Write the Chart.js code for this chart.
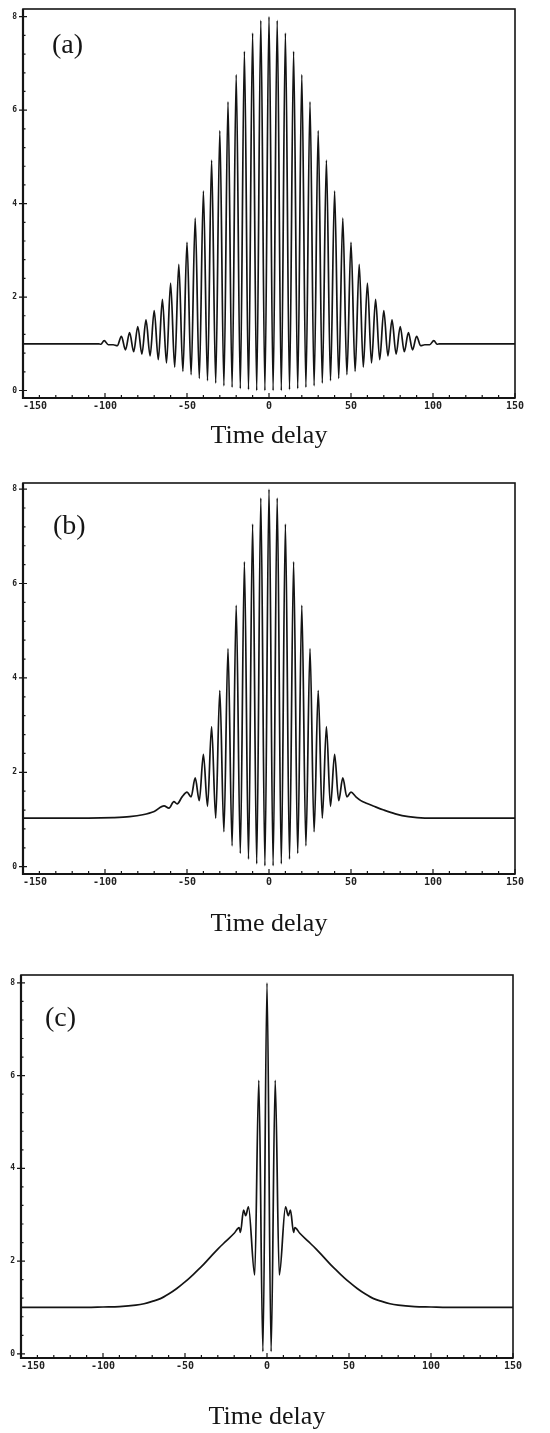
<!DOCTYPE html>
<html>
<head>
<meta charset="utf-8">
<script src="https://cdn.jsdelivr.net/npm/chart.js@4.4.0/dist/chart.umd.min.js"></script>
<style>
  body { margin: 0; background: #fff; width: 550px; height: 1433px; overflow: hidden; }
  canvas { position: absolute; left: 0; }
</style>
</head>
<body>
<canvas id="grafA" width="550" height="470" style="top:0px"></canvas>
<canvas id="grafB" width="550" height="475" style="top:470px"></canvas>
<canvas id="grafC" width="550" height="488" style="top:945px"></canvas>
<script>
// valores
const tempoA = [-150, -120, -104, -102.5, -100.5, -98, -95, -92.5,
  -90, -87.5, -85, -82.5, -80, -77.5, -75, -72.5, -70, -67.5, -65, -62.5, -60, -57.5, -55, -52.5,
  -50, -47.5, -45, -42.5, -40, -37.5, -35, -32.5, -30, -27.5, -25, -22.5, -20, -17.5, -15, -12.5,
  -10, -7.5, -5, -2.5, 0,
  2.5, 5, 7.5, 10, 12.5, 15, 17.5, 20, 22.5, 25, 27.5, 30, 32.5, 35, 37.5, 40, 42.5, 45, 47.5, 50,
  52.5, 55, 57.5, 60, 62.5, 65, 67.5, 70, 72.5, 75, 77.5, 80, 82.5, 85, 87.5, 90,
  92.5, 95, 98, 100.5, 102.5, 104, 120, 150];
const sinalA = [1.0, 1.0, 1.0, 0.99, 1.07, 0.98, 0.98, 0.96,
  1.16, 0.87, 1.24, 0.83, 1.37, 0.78, 1.51, 0.74, 1.71, 0.66, 1.95, 0.59, 2.30, 0.50, 2.70, 0.41,
  3.17, 0.34, 3.69, 0.26, 4.27, 0.21, 4.93, 0.16, 5.56, 0.10, 6.18, 0.07, 6.76, 0.04, 7.26, 0.02,
  7.65, 0.0, 7.92, 0.0, 8.0,
  0.0, 7.92, 0.0, 7.65, 0.02, 7.26, 0.04, 6.76, 0.07, 6.18, 0.10, 5.56, 0.16, 4.93, 0.21, 4.27, 0.26, 3.69, 0.34, 3.17,
  0.41, 2.70, 0.50, 2.30, 0.59, 1.95, 0.66, 1.71, 0.74, 1.51, 0.78, 1.37, 0.83, 1.24, 0.87, 1.16,
  0.96, 0.98, 0.98, 1.07, 0.99, 1.0, 1.0, 1.0];

const tempoB = [-150, -110, -95, -85, -77, -70, -64, -61, -58, -56, -53, -50,
  -47.5, -45, -42.5, -40, -37.5, -35, -32.5, -30, -27.5, -25, -22.5, -20, -17.5, -15, -12.5, -10,
  -7.5, -5, -2.5, 0,
  2.5, 5, 7.5, 10, 12.5, 15, 17.5, 20, 22.5, 25, 27.5, 30, 32.5, 35, 37.5, 40, 42.5, 45, 47.5,
  50, 53, 56, 59, 64, 70, 77, 85, 95, 110, 150];
const sinalB = [1.03, 1.03, 1.04, 1.06, 1.10, 1.17, 1.29, 1.24, 1.38, 1.33, 1.48, 1.58,
  1.48, 1.88, 1.40, 2.38, 1.28, 2.97, 1.03, 3.73, 0.74, 4.62, 0.44, 5.54, 0.28, 6.46, 0.16, 7.26,
  0.06, 7.81, 0.02, 8.0,
  0.02, 7.81, 0.06, 7.26, 0.16, 6.46, 0.28, 5.54, 0.44, 4.62, 0.74, 3.73, 1.03, 2.97, 1.28, 2.38, 1.40, 1.88, 1.48,
  1.58, 1.48, 1.40, 1.35, 1.28, 1.20, 1.12, 1.06, 1.03, 1.03, 1.03];

const tempoC = [-150, -110, -100, -90, -80, -75, -70, -65, -60, -55, -50, -45, -40, -35, -30, -25, -20,
  -17, -16.2, -14.3, -13, -11.3, -7.5, -5, -2.5, 0,
  2.5, 5, 7.5, 11.3, 13, 14.3, 16.2, 17,
  20, 25, 30, 35, 40, 45, 50, 55, 60, 65, 70, 75, 80, 90, 100, 110, 150];
const sinalC = [1.0, 1.0, 1.01, 1.02, 1.05, 1.08, 1.13, 1.19, 1.29, 1.41, 1.55, 1.71, 1.88, 2.07, 2.26, 2.43, 2.60,
  2.72, 2.62, 3.10, 2.98, 3.17, 1.70, 5.9, 0.05, 8.0,
  0.05, 5.9, 1.70, 3.17, 2.98, 3.10, 2.62, 2.72,
  2.60, 2.43, 2.26, 2.07, 1.88, 1.71, 1.55, 1.41, 1.29, 1.19, 1.13, 1.08, 1.05, 1.02, 1.01, 1.0, 1.0];

const xTicks = [-150, -140, -130, -120, -110, -100, -90, -80, -70, -60, -50, -40, -30, -20, -10, 0,
  10, 20, 30, 40, 50, 60, 70, 80, 90, 100, 110, 120, 130, 140, 150];
const xRotulos = [-150, -100, -50, 0, 50, 100, 150];
const yTicks = [0, 0.4, 0.8, 1.2, 1.6, 2, 2.4, 2.8, 3.2, 3.6, 4, 4.4, 4.8, 5.2, 5.6, 6,
  6.4, 6.8, 7.2, 7.6, 8];
const yRotulos = [0, 2, 4, 6, 8];

const moldura = {
  id: 'moldura',
  afterDraw(chart, args, opts) {
    const { ctx, chartArea: a, scales: { x, y } } = chart;
    ctx.save();
    ctx.strokeStyle = '#151515';
    ctx.lineWidth = 1.6;
    ctx.strokeRect(a.left, a.top, a.right - a.left, a.bottom - a.top);
    ctx.lineWidth = 2.2;
    ctx.beginPath();
    ctx.moveTo(a.left, a.top);
    ctx.lineTo(a.left, a.bottom);
    ctx.lineTo(a.right, a.bottom);
    ctx.stroke();

    ctx.lineWidth = 1.2;
    ctx.beginPath();
    xTicks.forEach(v => {
      const px = x.getPixelForValue(v);
      const len = xRotulos.includes(v) ? 5 : 3;
      ctx.moveTo(px, a.bottom);
      ctx.lineTo(px, a.bottom - len);
    });
    yTicks.forEach(v => {
      const py = y.getPixelForValue(v);
      if (yRotulos.includes(v)) {
        ctx.moveTo(a.left - 4, py);
        ctx.lineTo(a.left + 4, py);
      } else {
        ctx.moveTo(a.left, py);
        ctx.lineTo(a.left + 2.5, py);
      }
    });
    ctx.stroke();

    ctx.fillStyle = '#151515';
    ctx.font = '28px "Liberation Serif", serif';
    ctx.textBaseline = 'middle';
    ctx.fillText(opts.letra, opts.lx, opts.ly);
    ctx.restore();
  }
};

function criaPainel({ canvasId, tempo, sinal, letra, lx, ly, yMin, yMax, topo, eixoX, larguraY, direita, tituloPad }) {
  const ctx = document.getElementById(canvasId).getContext('2d');
  new Chart(ctx, {
    type: 'line',
    data: {
      datasets: [{
        data: tempo.map((t, i) => ({ x: t, y: sinal[i] })),
        borderColor: '#141414',
        borderWidth: 1.7,
        pointRadius: 0,
        cubicInterpolationMode: 'monotone',
        fill: false
      }]
    },
    options: {
      responsive: false,
      animation: false,
      layout: { padding: { left: 0, right: direita, top: topo, bottom: 0 } },
      plugins: {
        legend: { display: false },
        tooltip: { enabled: false },
        moldura: { letra, lx, ly }
      },
      scales: {
        x: {
          type: 'linear',
          min: -150,
          max: 150,
          afterBuildTicks: s => { s.ticks = xTicks.map(v => ({ value: v })); },
          afterFit: s => { s.height = eixoX; s.paddingLeft = 0; s.paddingRight = 0; },
          grid: { display: false, drawTicks: false },
          border: { display: false },
          ticks: {
            autoSkip: false,
            maxRotation: 0,
            padding: 2,
            color: '#222',
            font: { family: '"DejaVu Sans Mono", monospace', size: 10, weight: 'bold' },
            callback: v => v === -150 ? '    -150' : (xRotulos.includes(v) ? String(v) : '')
          },
          title: {
            display: true,
            text: 'Time delay',
            color: '#151515',
            font: { family: '"Liberation Serif", serif', size: 26 },
            padding: { top: 0, bottom: tituloPad }
          }
        },
        y: {
          min: yMin,
          max: yMax,
          afterBuildTicks: s => { s.ticks = yTicks.map(v => ({ value: v })); },
          afterFit: s => { s.width = larguraY; s.paddingTop = 0; s.paddingBottom = 0; },
          grid: { display: false, drawTicks: false },
          border: { display: false },
          ticks: {
            autoSkip: false,
            padding: 6,
            color: '#222',
            font: { family: '"DejaVu Sans Mono", monospace', size: 8, weight: 'bold' },
            callback: v => yRotulos.includes(v) ? String(v) : ''
          }
        }
      }
    },
    plugins: [moldura]
  });
}

criaPainel({ canvasId: 'grafA', tempo: tempoA, sinal: sinalA, letra: '(a)', lx: 52, ly: 46,
  yMin: -0.16, yMax: 8.165, topo: 9, eixoX: 72, larguraY: 23, direita: 35, tituloPad: 18 });
criaPainel({ canvasId: 'grafB', tempo: tempoB, sinal: sinalB, letra: '(b)', lx: 53, ly: 57,
  yMin: -0.155, yMax: 8.13, topo: 13, eixoX: 71, larguraY: 23, direita: 35, tituloPad: 5 });
criaPainel({ canvasId: 'grafC', tempo: tempoC, sinal: sinalC, letra: '(c)', lx: 45, ly: 74,
  yMin: -0.09, yMax: 8.17, topo: 30, eixoX: 75, larguraY: 21, direita: 37, tituloPad: 0 });
</script>
</body>
</html>
